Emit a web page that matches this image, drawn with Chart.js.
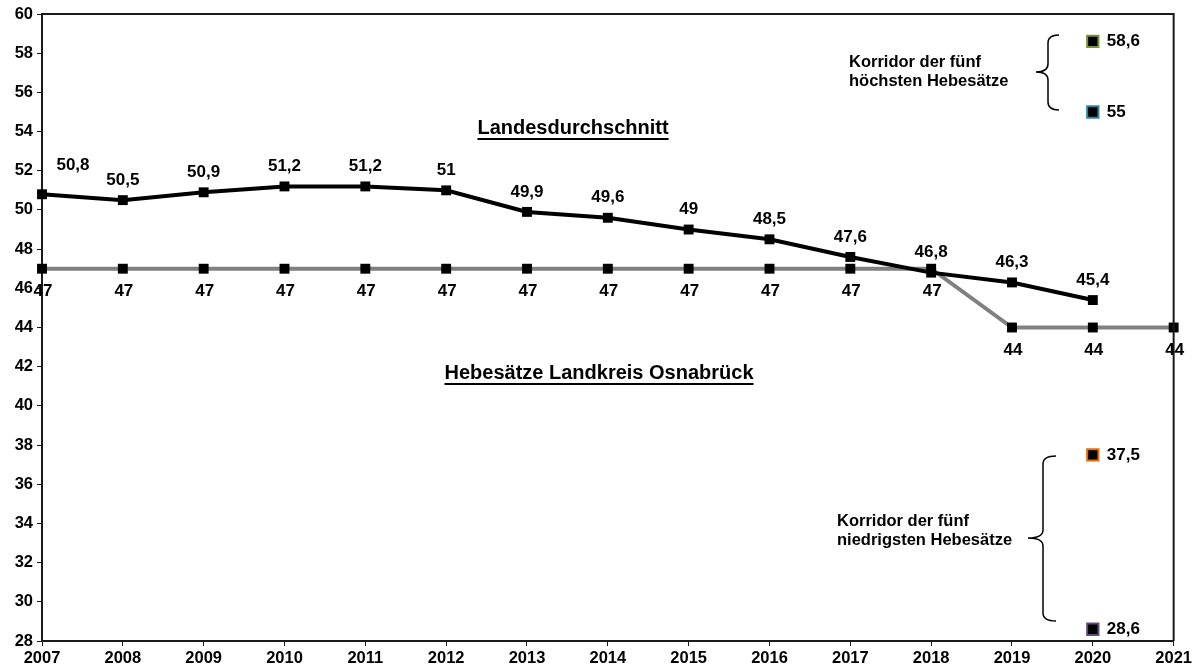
<!DOCTYPE html>
<html>
<head>
<meta charset="utf-8">
<script src="https://cdn.jsdelivr.net/npm/chart.js@4/dist/chart.umd.min.js"></script>
<style>
  html, body { margin: 0; padding: 0; background: #fff; }
  canvas { display: block; }
</style>
</head>
<body>
<canvas id="hebesatzChart" width="1195" height="670"></canvas>
<script>
// Jahre auf der x-Achse
const years = ['2007', '2008', '2009', '2010', '2011', '2012', '2013', '2014', '2015', '2016', '2017', '2018', '2019', '2020', '2021'];

// Landesdurchschnitt (bis 2020)
const landesValues = [50.8, 50.5, 50.9, 51.2, 51.2, 51, 49.9, 49.6, 49, 48.5, 47.6, 46.8, 46.3, 45.4];

// Hebesätze Landkreis Osnabrück
const kreisValues = [47, 47, 47, 47, 47, 47, 47, 47, 47, 47, 47, 47, 44, 44, 44];

// Korridor 2020: fünf höchste / fünf niedrigste Hebesätze
const corridorValues = [58.6, 55, 37.5, 28.6];
const corridorColors = ['#77933c', '#31859c', '#e46c0a', '#604a7b'];
const corridorYear = '2020';

const FONT = '"Liberation Sans", Arial, sans-serif';

function fmt(v) {
    return String(v).replace('.', ',');
}

// single point in the 2020 column
function corridorData(v) {
    return years.map(y => (y === corridorYear ? v : null));
}

const corridorSets = corridorValues.map((v, i) => ({
    label: 'Korridor ' + fmt(v),
    data: corridorData(v),
    showLine: false,
    pointStyle: 'rect',
    pointRadius: 8,
    pointHoverRadius: 8,
    pointBackgroundColor: '#000',
    pointBorderColor: corridorColors[i],
    pointBorderWidth: 2,
    clip: false
}));

// value labels, titles, braces and the frame
const annotations = {
    id: 'annotations',
    afterDatasetsDraw(chart) {
        const ctx = chart.ctx;
        const area = chart.chartArea;
        ctx.save();
        ctx.fillStyle = '#000';
        ctx.textAlign = 'center';
        ctx.textBaseline = 'middle';
        ctx.font = 'bold 17px ' + FONT;

        // Landesdurchschnitt above the points
        chart.getDatasetMeta(0).data.forEach((pt, i) => {
            let dx = 0, dy = -20;
            if (i === 0) { dx = 31; dy = -29; }
            ctx.fillText(fmt(landesValues[i]), pt.x + dx, pt.y + dy);
        });

        // Landkreis below the points
        chart.getDatasetMeta(1).data.forEach((pt, i) => {
            ctx.fillText(fmt(kreisValues[i]), pt.x + 1, pt.y + 23);
        });

        // corridor values to the right
        ctx.textAlign = 'left';
        corridorValues.forEach((v, i) => {
            const meta = chart.getDatasetMeta(2 + i);
            const pt = meta.data[years.indexOf(corridorYear)];
            ctx.fillText(fmt(v), pt.x + 14, pt.y);
        });

        // underlined series titles
        ctx.textAlign = 'center';
        ctx.font = 'bold 20px ' + FONT;
        [['Landesdurchschnitt', 573, 128], ['Hebesätze Landkreis Osnabrück', 599, 373]].forEach(([t, x, y]) => {
            ctx.fillText(t, x, y);
            const w = ctx.measureText(t).width;
            ctx.fillRect(x - w / 2, y + 10, w, 2);
        });

        // corridor descriptions
        ctx.textAlign = 'left';
        ctx.font = 'bold 16.5px ' + FONT;
        ctx.fillText('Korridor der fünf', 849, 62);
        ctx.fillText('höchsten Hebesätze', 849, 81);
        ctx.fillText('Korridor der fünf', 837, 521);
        ctx.fillText('niedrigsten Hebesätze', 837, 540);

        // curly braces
        ctx.strokeStyle = '#000';
        ctx.lineWidth = 1.5;
        drawBrace(ctx, 1048, 35, 72, 110, 1036, 1059);
        drawBrace(ctx, 1043, 456, 538, 621, 1028, 1056);

        // top and right frame
        ctx.strokeStyle = '#1a1a1a';
        ctx.lineWidth = 2;
        ctx.beginPath();
        ctx.moveTo(area.left, area.top);
        ctx.lineTo(area.right, area.top);
        ctx.lineTo(area.right, area.bottom);
        ctx.stroke();
        ctx.restore();
    }
};

function drawBrace(ctx, x, top, mid, bottom, tipX, hookX) {
    const r = 8;
    ctx.beginPath();
    ctx.moveTo(hookX, top);
    ctx.quadraticCurveTo(x, top, x, top + r);
    ctx.lineTo(x, mid - r);
    ctx.quadraticCurveTo(x, mid, tipX, mid);
    ctx.quadraticCurveTo(x, mid, x, mid + r);
    ctx.lineTo(x, bottom - r);
    ctx.quadraticCurveTo(x, bottom, hookX, bottom);
    ctx.stroke();
}

const ctx = document.getElementById('hebesatzChart').getContext('2d');

new Chart(ctx, {
    type: 'line',
    data: {
        labels: years,
        datasets: [
            {
                label: 'Landesdurchschnitt',
                data: landesValues,
                borderColor: '#000',
                borderWidth: 4,
                pointStyle: 'rect',
                pointRadius: 7,
                pointHoverRadius: 7,
                pointBackgroundColor: '#000',
                pointBorderWidth: 0,
                tension: 0,
                clip: false
            },
            {
                label: 'Hebesätze Landkreis Osnabrück',
                data: kreisValues,
                borderColor: '#808080',
                borderWidth: 4,
                pointStyle: 'rect',
                pointRadius: 7,
                pointHoverRadius: 7,
                pointBackgroundColor: '#000',
                pointBorderWidth: 0,
                tension: 0,
                clip: false
            },
            ...corridorSets
        ]
    },
    options: {
        responsive: false,
        animation: false,
        devicePixelRatio: 1,
        layout: { padding: { top: 14, right: 20, left: 0, bottom: 0 } },
        plugins: {
            legend: { display: false },
            tooltip: { enabled: false }
        },
        scales: {
            x: {
                offset: false,
                grid: { drawOnChartArea: false, tickLength: 5, color: '#1a1a1a' },
                border: { color: '#1a1a1a', width: 2 },
                ticks: {
                    color: '#000',
                    font: { family: FONT, size: 16.5, weight: 'bold' },
                    padding: 3,
                    maxRotation: 0,
                    autoSkip: false
                },
                afterFit(scale) { scale.height = 29; }
            },
            y: {
                min: 28,
                max: 60,
                grid: { drawOnChartArea: false, tickLength: 5, color: '#1a1a1a' },
                border: { color: '#1a1a1a', width: 2 },
                ticks: {
                    stepSize: 2,
                    color: '#000',
                    font: { family: FONT, size: 16.5, weight: 'bold' },
                    padding: 4
                },
                afterFit(scale) { scale.width = 42; }
            }
        }
    },
    plugins: [annotations]
});
</script>
</body>
</html>
